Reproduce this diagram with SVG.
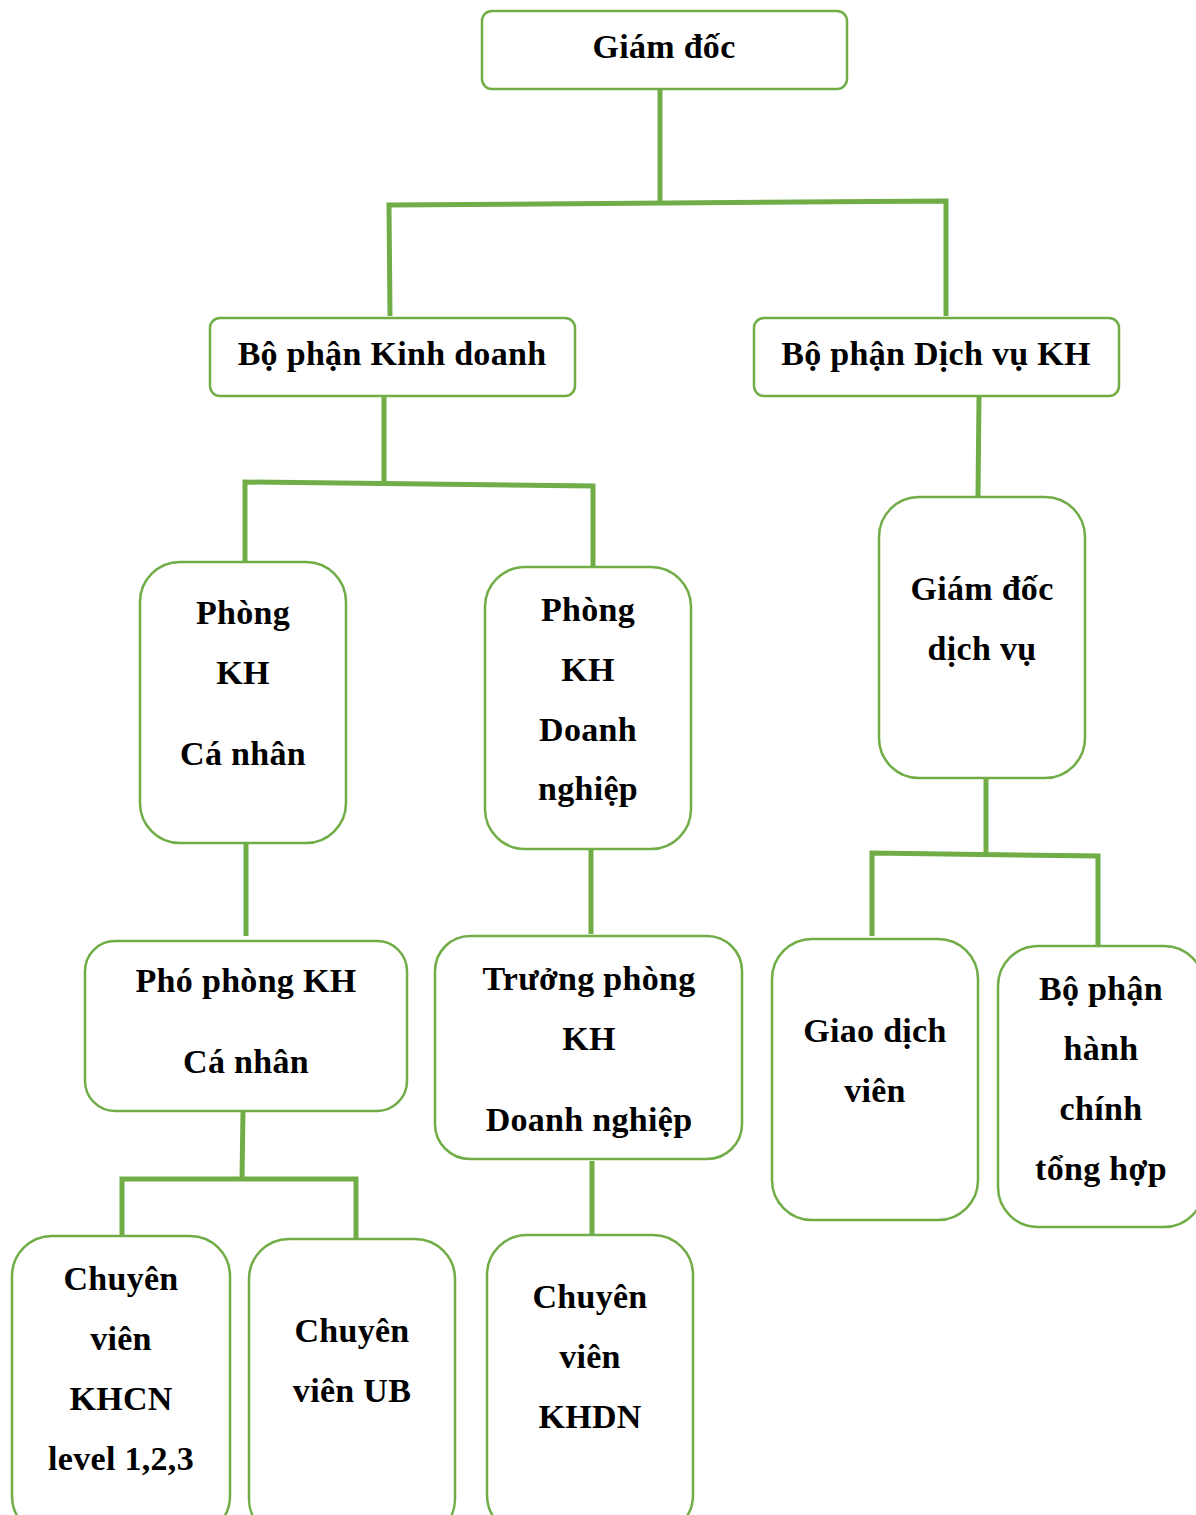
<svg xmlns="http://www.w3.org/2000/svg" width="1196" height="1515" viewBox="0 0 1196 1515">
<style>
.box{fill:#fff;stroke:#70AD47;stroke-width:2.5}
.t{font-family:"Liberation Serif","Times New Roman",serif;font-weight:bold;font-size:34px;letter-spacing:0.3px;fill:#000;text-anchor:middle}
.c{fill:none;stroke:#70AD47;stroke-width:5;stroke-linejoin:miter;stroke-linecap:butt}
</style>
<rect width="1196" height="1515" fill="#fff"/>
<g id="connectors">
<path class="c" d="M660,90 V203"/>
<path class="c" d="M390,316 L389,205 L946,201 V316"/>
<path class="c" d="M384,397 V483"/>
<path class="c" d="M245,561 V482 L593,486 V567"/>
<path class="c" d="M979,397 L978,496"/>
<path class="c" d="M246,844 V936"/>
<path class="c" d="M591,850 V934"/>
<path class="c" d="M986,778 V854"/>
<path class="c" d="M872,936 V853 L1098,856 V945"/>
<path class="c" d="M243,1112 L242,1179"/>
<path class="c" d="M122,1237 V1179 H356 V1239"/>
<path class="c" d="M592,1161 V1236"/>
</g>
<g id="giam-doc">
<rect class="box" x="482" y="11" width="365" height="78" rx="10"/>
<text class="t" x="664" y="58">Giám đốc</text>
</g>
<g id="bp-kinh-doanh">
<rect class="box" x="210" y="318" width="365" height="78" rx="10"/>
<text class="t" x="392" y="365">Bộ phận Kinh doanh</text>
</g>
<g id="bp-dich-vu">
<rect class="box" x="754" y="318" width="365" height="78" rx="10"/>
<text class="t" x="936" y="365">Bộ phận Dịch vụ KH</text>
</g>
<g id="phong-khcn">
<rect class="box" x="140" y="562" width="206" height="281" rx="40"/>
<text class="t" x="243" y="624">Phòng</text>
<text class="t" x="243" y="684">KH</text>
<text class="t" x="243" y="765">Cá nhân</text>
</g>
<g id="phong-khdn">
<rect class="box" x="485" y="567" width="206" height="282" rx="40"/>
<text class="t" x="588" y="621">Phòng</text>
<text class="t" x="588" y="681">KH</text>
<text class="t" x="588" y="741">Doanh</text>
<text class="t" x="588" y="800">nghiệp</text>
</g>
<g id="gd-dich-vu">
<rect class="box" x="879" y="497" width="206" height="281" rx="40"/>
<text class="t" x="982" y="600">Giám đốc</text>
<text class="t" x="982" y="660">dịch vụ</text>
</g>
<g id="pho-phong">
<rect class="box" x="85" y="941" width="322" height="170" rx="30"/>
<text class="t" x="246" y="992">Phó phòng KH</text>
<text class="t" x="246" y="1073">Cá nhân</text>
</g>
<g id="truong-phong">
<rect class="box" x="435" y="936" width="307" height="223" rx="35"/>
<text class="t" x="589" y="990">Trưởng phòng</text>
<text class="t" x="589" y="1050">KH</text>
<text class="t" x="589" y="1131">Doanh nghiệp</text>
</g>
<g id="giao-dich-vien">
<rect class="box" x="772" y="939" width="206" height="281" rx="40"/>
<text class="t" x="875" y="1042">Giao dịch</text>
<text class="t" x="875" y="1102">viên</text>
</g>
<g id="hanh-chinh">
<rect class="box" x="998" y="946" width="206" height="281" rx="40"/>
<text class="t" x="1101" y="1000">Bộ phận</text>
<text class="t" x="1101" y="1060">hành</text>
<text class="t" x="1101" y="1120">chính</text>
<text class="t" x="1101" y="1180">tổng hợp</text>
</g>
<g id="cv-khcn">
<rect class="box" x="12" y="1236" width="218" height="300" rx="40"/>
<text class="t" x="121" y="1290">Chuyên</text>
<text class="t" x="121" y="1350">viên</text>
<text class="t" x="121" y="1410">KHCN</text>
<text class="t" x="121" y="1470">level 1,2,3</text>
</g>
<g id="cv-ub">
<rect class="box" x="249" y="1239" width="206" height="300" rx="40"/>
<text class="t" x="352" y="1342">Chuyên</text>
<text class="t" x="352" y="1402">viên UB</text>
</g>
<g id="cv-khdn">
<rect class="box" x="487" y="1235" width="206" height="300" rx="40"/>
<text class="t" x="590" y="1308">Chuyên</text>
<text class="t" x="590" y="1368">viên</text>
<text class="t" x="590" y="1428">KHDN</text>
</g>
</svg>
